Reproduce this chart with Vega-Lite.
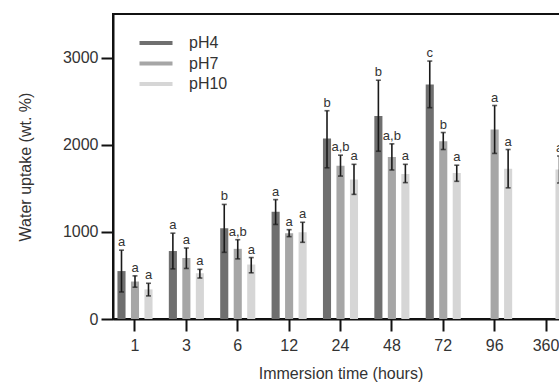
{
  "$schema": "https://vega.github.io/schema/vega-lite/v6.json",
  "width": 455,
  "height": 305,
  "autosize": "none",
  "padding": {"left": 113, "top": 14, "right": 0, "bottom": 64},
  "background": "white",
  "config": {
    "font": "Liberation Sans",
    "view": {"stroke": "#111111", "strokeWidth": 2},
    "axis": {
      "domainColor": "#111111", "domainWidth": 2, "tickColor": "#111111", "tickWidth": 2, "tickSize": 12,
      "labelFont": "Liberation Sans", "labelFontSize": 16, "labelColor": "#333333",
      "titleFont": "Liberation Sans", "titleFontSize": 16, "titleFontWeight": "normal", "titleColor": "#333333",
      "grid": false
    }
  },
  "data": {
    "values": [
      {"t": "1", "ph": "pH4", "mean": 550, "lo": 310, "hi": 790, "lab": "a"},
      {"t": "1", "ph": "pH7", "mean": 430, "lo": 365, "hi": 495, "lab": "a"},
      {"t": "1", "ph": "pH10", "mean": 340, "lo": 265, "hi": 410, "lab": "a"},
      {"t": "3", "ph": "pH4", "mean": 780, "lo": 575, "hi": 985, "lab": "a"},
      {"t": "3", "ph": "pH7", "mean": 700, "lo": 580, "hi": 815, "lab": "a"},
      {"t": "3", "ph": "pH10", "mean": 525, "lo": 470, "hi": 570, "lab": "a"},
      {"t": "6", "ph": "pH4", "mean": 1040, "lo": 765, "hi": 1315, "lab": "b"},
      {"t": "6", "ph": "pH7", "mean": 805, "lo": 690, "hi": 910, "lab": "a,b"},
      {"t": "6", "ph": "pH10", "mean": 625, "lo": 530, "hi": 705, "lab": "a"},
      {"t": "12", "ph": "pH4", "mean": 1230, "lo": 1085, "hi": 1370, "lab": "a"},
      {"t": "12", "ph": "pH7", "mean": 985, "lo": 945, "hi": 1025, "lab": "a"},
      {"t": "12", "ph": "pH10", "mean": 995, "lo": 880, "hi": 1110, "lab": "a"},
      {"t": "24", "ph": "pH4", "mean": 2070, "lo": 1735, "hi": 2390, "lab": "b"},
      {"t": "24", "ph": "pH7", "mean": 1760, "lo": 1640, "hi": 1880, "lab": "a,b"},
      {"t": "24", "ph": "pH10", "mean": 1600, "lo": 1430, "hi": 1775, "lab": "a"},
      {"t": "48", "ph": "pH4", "mean": 2330, "lo": 1925, "hi": 2740, "lab": "b"},
      {"t": "48", "ph": "pH7", "mean": 1860, "lo": 1710, "hi": 2010, "lab": "a,b"},
      {"t": "48", "ph": "pH10", "mean": 1665, "lo": 1565, "hi": 1775, "lab": "a"},
      {"t": "72", "ph": "pH4", "mean": 2690, "lo": 2425, "hi": 2960, "lab": "c"},
      {"t": "72", "ph": "pH7", "mean": 2040, "lo": 1945, "hi": 2140, "lab": "b"},
      {"t": "72", "ph": "pH10", "mean": 1675, "lo": 1580, "hi": 1765, "lab": "a"},
      {"t": "96", "ph": "pH7", "mean": 2175, "lo": 1900, "hi": 2450, "lab": "a"},
      {"t": "96", "ph": "pH10", "mean": 1725, "lo": 1505, "hi": 1945, "lab": "a"},
      {"t": "360", "ph": "pH10", "mean": 1715, "lo": 1560, "hi": 1870, "lab": "a"}
    ]
  },
  "encoding": {
    "x": {
      "field": "t", "type": "nominal", "sort": ["1", "3", "6", "12", "24", "48", "72", "96", "360"],
      "scale": {"paddingInner": 0.212, "paddingOuter": 0.034},
      "axis": {"title": "Immersion time (hours)", "labelAngle": 0, "labelPadding": 6, "titlePadding": 12}
    },
    "xOffset": {
      "field": "ph", "type": "nominal", "sort": ["pH4", "pH7", "pH10"],
      "scale": {"paddingInner": 0.4, "paddingOuter": 0.2}
    }
  },
  "layer": [
    {
      "mark": {"type": "bar"},
      "encoding": {
        "y": {
          "field": "mean", "type": "quantitative",
          "scale": {"domain": [0, 3500], "nice": false},
          "axis": {"title": "Water uptake (wt. %)", "values": [0, 1000, 2000, 3000], "format": "d", "labelPadding": 3, "titlePadding": 29}
        },
        "color": {
          "field": "ph", "type": "nominal", "sort": ["pH4", "pH7", "pH10"],
          "scale": {"domain": ["pH4", "pH7", "pH10"], "range": ["#6f6f6f", "#a6a6a6", "#d6d6d6"]},
          "legend": {
            "title": null, "orient": "none", "legendX": 35, "legendY": 21,
            "symbolType": "M-3,-0.36H3V0.36H-3Z", "symbolSize": 121,
            "labelFontSize": 16, "labelColor": "#333333", "labelOffset": 25, "rowPadding": 4.5, "padding": 0
          }
        }
      }
    },
    {
      "mark": {"type": "rule", "color": "#1a1a1a", "strokeWidth": 1.6},
      "encoding": {"y": {"field": "lo", "type": "quantitative"}, "y2": {"field": "hi"}}
    },
    {
      "mark": {"type": "tick", "color": "#1a1a1a", "thickness": 1.6, "size": 5, "orient": "horizontal"},
      "encoding": {"y": {"field": "hi", "type": "quantitative"}}
    },
    {
      "mark": {"type": "tick", "color": "#1a1a1a", "thickness": 1.6, "size": 5, "orient": "horizontal"},
      "encoding": {"y": {"field": "lo", "type": "quantitative"}}
    },
    {
      "mark": {"type": "text", "baseline": "alphabetic", "dy": -4, "fontSize": 13, "color": "#333333"},
      "encoding": {"y": {"field": "hi", "type": "quantitative"}, "text": {"field": "lab"}}
    }
  ]
}
